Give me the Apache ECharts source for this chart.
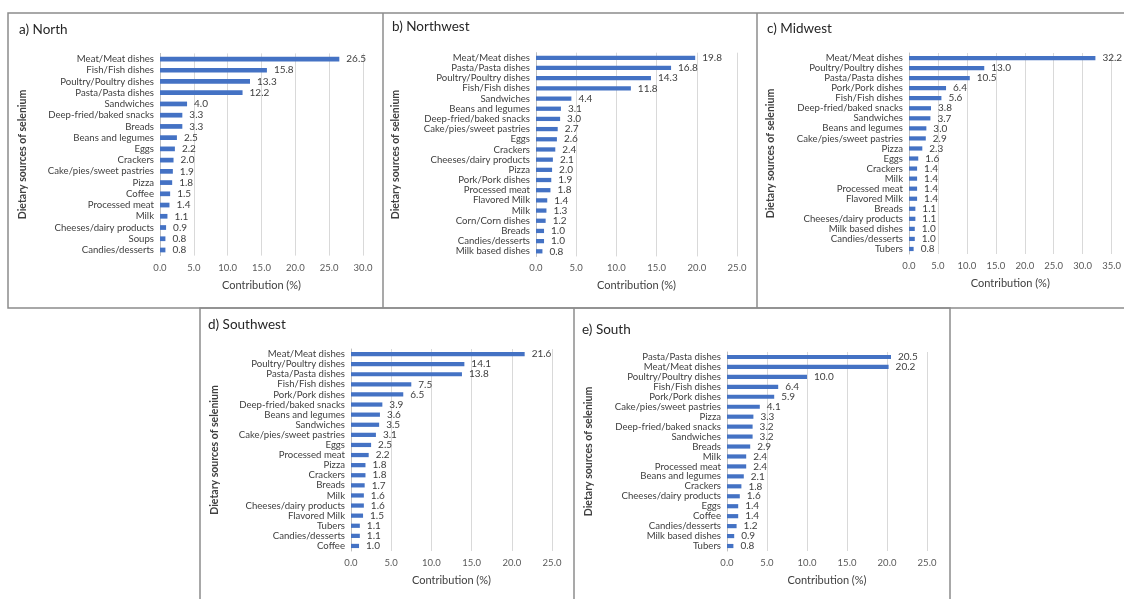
<!DOCTYPE html>
<html>
<head>
<meta charset="utf-8">
<script src="https://cdn.jsdelivr.net/npm/echarts@6/dist/echarts.min.js"></script>
<style>
html,body{margin:0;padding:0;background:#fff;}
#c{width:1124px;height:599px;}
</style>
</head>
<body>
<div id="c"></div>
<script>
// ---- Data ----
const northCats = ["Meat/Meat dishes","Fish/Fish dishes","Poultry/Poultry dishes","Pasta/Pasta dishes","Sandwiches","Deep-fried/baked snacks","Breads","Beans and legumes","Eggs","Crackers","Cake/pies/sweet pastries","Pizza","Coffee","Processed meat","Milk","Cheeses/dairy products","Soups","Candies/desserts"];
const northVals = [26.5,15.8,13.3,12.2,4.0,3.3,3.3,2.5,2.2,2.0,1.9,1.8,1.5,1.4,1.1,0.9,0.8,0.8];

const northwestCats = ["Meat/Meat dishes","Pasta/Pasta dishes","Poultry/Poultry dishes","Fish/Fish dishes","Sandwiches","Beans and legumes","Deep-fried/baked snacks","Cake/pies/sweet pastries","Eggs","Crackers","Cheeses/dairy products","Pizza","Pork/Pork dishes","Processed meat","Flavored Milk","Milk","Corn/Corn dishes","Breads","Candies/desserts","Milk based dishes"];
const northwestVals = [19.8,16.8,14.3,11.8,4.4,3.1,3.0,2.7,2.6,2.4,2.1,2.0,1.9,1.8,1.4,1.3,1.2,1.0,1.0,0.8];

const midwestCats = ["Meat/Meat dishes","Poultry/Poultry dishes","Pasta/Pasta dishes","Pork/Pork dishes","Fish/Fish dishes","Deep-fried/baked snacks","Sandwiches","Beans and legumes","Cake/pies/sweet pastries","Pizza","Eggs","Crackers","Milk","Processed meat","Flavored Milk","Breads","Cheeses/dairy products","Milk based dishes","Candies/desserts","Tubers"];
const midwestVals = [32.2,13.0,10.5,6.4,5.6,3.8,3.7,3.0,2.9,2.3,1.6,1.4,1.4,1.4,1.4,1.1,1.1,1.0,1.0,0.8];

const southwestCats = ["Meat/Meat dishes","Poultry/Poultry dishes","Pasta/Pasta dishes","Fish/Fish dishes","Pork/Pork dishes","Deep-fried/baked snacks","Beans and legumes","Sandwiches","Cake/pies/sweet pastries","Eggs","Processed meat","Pizza","Crackers","Breads","Milk","Cheeses/dairy products","Flavored Milk","Tubers","Candies/desserts","Coffee"];
const southwestVals = [21.6,14.1,13.8,7.5,6.5,3.9,3.6,3.5,3.1,2.5,2.2,1.8,1.8,1.7,1.6,1.6,1.5,1.1,1.1,1.0];

const southCats = ["Pasta/Pasta dishes","Meat/Meat dishes","Poultry/Poultry dishes","Fish/Fish dishes","Pork/Pork dishes","Cake/pies/sweet pastries","Pizza","Deep-fried/baked snacks","Sandwiches","Breads","Milk","Processed meat","Beans and legumes","Crackers","Cheeses/dairy products","Eggs","Coffee","Candies/desserts","Milk based dishes","Tubers"];
const southVals = [20.5,20.2,10.0,6.4,5.9,4.1,3.3,3.2,3.2,2.9,2.4,2.4,2.1,1.8,1.6,1.4,1.4,1.2,0.9,0.8];

const panelTitles = ["a) North","b) Northwest","c) Midwest","d) Southwest","e) South"];
const axisMax = [30,25,35,25,25];
const xAxisName = "Contribution (%)";
const yAxisName = "Dietary sources of selenium";

// ---- Layout (pixels) ----
const FONT = "Lato, 'Liberation Sans', sans-serif";
const panels = [
  {cats:northCats, vals:northVals, grid:{left:160, top:53.4, width:203, height:202.2}, title:{left:19, top:23}, yGap:132},
  {cats:northwestCats, vals:northwestVals, grid:{left:536, top:52.7, width:201, height:203.7}, title:{left:392, top:20}, yGap:135},
  {cats:midwestCats, vals:midwestVals, grid:{left:909, top:53, width:203, height:201}, title:{left:767, top:22}, yGap:133},
  {cats:southwestCats, vals:southwestVals, grid:{left:351, top:349, width:201, height:202}, title:{left:208, top:318}, yGap:131},
  {cats:southCats, vals:southVals, grid:{left:727, top:352, width:200, height:199}, title:{left:582, top:323}, yGap:133}
];

const option = {
  animation:false,
  backgroundColor:'#ffffff',
  title: panels.map((p,i)=>({
    text: panelTitles[i], left:p.title.left, top:p.title.top, padding:0,
    textStyle:{fontFamily:FONT, fontSize:13.5, fontWeight:'normal', color:'#262626'}
  })),
  grid: panels.map(p=>Object.assign({containLabel:false}, p.grid)),
  xAxis: panels.map((p,i)=>({
    type:'value', gridIndex:i, min:0, max:axisMax[i], interval:5,
    name:xAxisName, nameLocation:'middle', nameGap:24,
    nameTextStyle:{fontFamily:FONT, fontSize:11, color:'#404040'},
    axisLine:{show:false}, axisTick:{show:false},
    axisLabel:{formatter:v=>v.toFixed(1), fontFamily:FONT, fontSize:9.5, color:'#595959', margin:7},
    splitLine:{show:true, lineStyle:{color:'#d9d9d9', width:1}}
  })),
  yAxis: panels.map((p,i)=>({
    type:'category', gridIndex:i, data:p.cats, inverse:true,
    name:yAxisName, nameLocation:'middle', nameGap:p.yGap, nameRotate:90,
    nameTextStyle:{fontFamily:FONT, fontSize:10.5, fontWeight:'bold', color:'#404040'},
    axisLine:{show:true, lineStyle:{color:'#bfbfbf', width:1}}, axisTick:{show:false},
    axisLabel:{fontFamily:FONT, fontSize:9.6, color:'#404040', margin:6, interval:0}
  })),
  series: panels.map((p,i)=>({
    type:'bar', xAxisIndex:i, yAxisIndex:i, data:p.vals, barWidth:'42%',
    itemStyle:{color:'#4472C4'},
    label:{show:true, position:'right', distance:7, formatter:d=>d.value.toFixed(1),
      fontFamily:FONT, fontSize:10, color:'#404040'}
  })),
  graphic: [
    {type:'polyline', shape:{points:[[1130,13],[8,13],[8,308],[1130,308]]}, style:{stroke:'#8c8c8c', lineWidth:1.5, fill:null}, silent:true},
    {type:'line', shape:{x1:383,y1:13,x2:383,y2:308}, style:{stroke:'#8c8c8c', lineWidth:1.5}, silent:true},
    {type:'line', shape:{x1:757,y1:13,x2:757,y2:308}, style:{stroke:'#8c8c8c', lineWidth:1.5}, silent:true},
    {type:'polyline', shape:{points:[[200,605],[200,308],[950,308],[950,605]]}, style:{stroke:'#8c8c8c', lineWidth:1.5, fill:null}, silent:true},
    {type:'line', shape:{x1:574,y1:308,x2:574,y2:605}, style:{stroke:'#8c8c8c', lineWidth:1.5}, silent:true}
  ]
};

const chart = echarts.init(document.getElementById('c'), null, {renderer:'canvas'});
chart.setOption(option);
</script>
</body>
</html>
